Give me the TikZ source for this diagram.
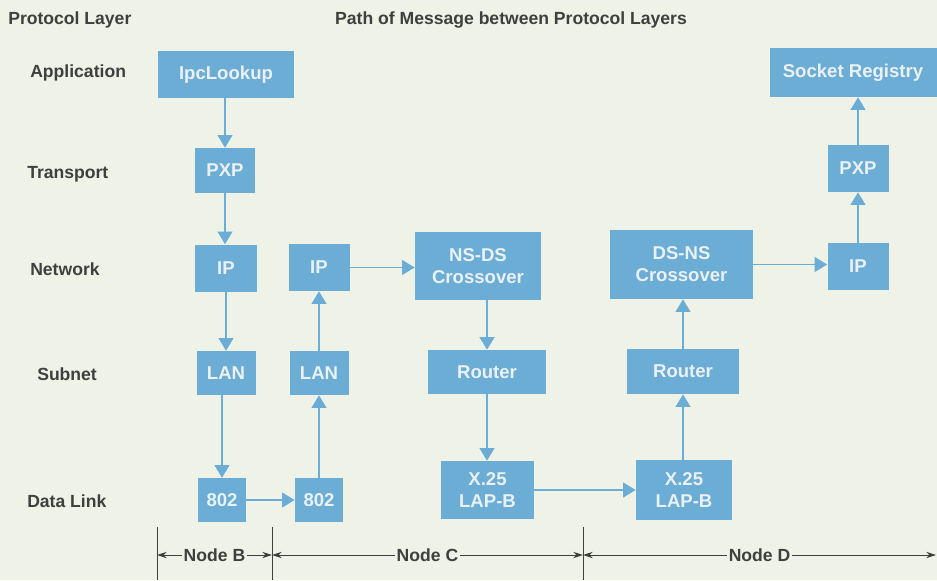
\documentclass[tikz,border=0pt]{standalone}
\usepackage{fontspec}
\setmainfont{Liberation Sans}
\usepackage{tikz}
\usetikzlibrary{arrows.meta,positioning}
\definecolor{paper}{RGB}{238,242,231}
\definecolor{boxblue}{RGB}{108,173,214}
\definecolor{boxtext}{RGB}{234,241,243}
\definecolor{labelgray}{RGB}{62,64,62}
\tikzstyle{proto} = [fill=boxblue, text=boxtext, align=center, inner sep=0pt, font=\fontsize{13.2}{15.5}\selectfont\bfseries]
\tikzstyle{layer} = [text=labelgray, anchor=west, inner sep=0pt, font=\fontsize{12.5}{14}\selectfont\bfseries]
\tikzstyle{arrow} = [draw, line width=1.4pt, color=boxblue, -{Triangle[length=9pt,width=10.5pt]}]
\tikzstyle{span} = [draw, line width=0.7pt, color=labelgray, {Stealth[length=7pt,width=4.5pt]}-{Stealth[length=7pt,width=4.5pt]}]
\tikzstyle{spanlabel} = [fill=paper, text=labelgray, inner sep=1pt, font=\fontsize{12.5}{14}\selectfont\bfseries]
\tikzstyle{tick} = [draw, line width=0.7pt, color=labelgray]
\newcommand{\proto}[4]{node (#1) [proto, minimum width=#2*0.025cm, minimum height=#3*0.025cm] {#4}}
\newcommand{\layer}[2]{node (l#1) [layer] {#2}}

\begin{document}
\begin{tikzpicture}[x=0.025cm,y=-0.025cm]
\path [fill=paper] (0,0) rectangle (937,580);
\useasboundingbox (0,0) rectangle (937,580);

% layer names and title
\path (8,20) \layer{head}{Protocol Layer};
\path (511,20) node (title) [layer, anchor=center] {Path of Message between Protocol Layers};
\path (30,73) \layer{app}{Application};
\path (27,174) \layer{trans}{Transport};
\path (30,269) \layer{net}{Network};
\path (37,374) \layer{sub}{Subnet};
\path (27,501) \layer{link}{Data Link};

% node B
\path (226,74.5) \proto{ipc}{136}{47}{IpcLookup};
\path (225,170.5) \proto{pxpB}{60}{45}{PXP};
\path (226,268) \proto{ipB}{62}{47}{IP};
\path (226,373) \proto{lanB}{59}{44}{LAN};
\path (222,500) \proto{linkB}{48}{44}{802};
\path [arrow] (ipc.south -| pxpB.north) -- (pxpB.north);
\path [arrow] (pxpB.south) -- (pxpB.south |- ipB.north);
\path [arrow] (ipB.south) -- (ipB.south |- lanB.north);
\path [arrow] (lanB.south -| linkB.north) -- (linkB.north);

% node C
\path (319,500) \proto{linkC}{48}{44}{802};
\path (319,373) \proto{lanC}{59}{44}{LAN};
\path (319,267.5) \proto{ipC}{61}{47}{IP};
\path (478,266) \proto{nsds}{126}{68}{NS-DS\\Crossover};
\path (487,372) \proto{routerC}{118}{44}{Router};
\path (487.5,490) \proto{x25C}{93}{58}{X.25\\LAP-B};
\path [arrow] (linkB.east) -- (linkB.east -| linkC.west);
\path [arrow] (linkC.north) -- (linkC.north |- lanC.south);
\path [arrow] (lanC.north) -- (lanC.north |- ipC.south);
\path [arrow] (ipC.east) -- (ipC.east -| nsds.west);
\path [arrow] (nsds.south -| routerC.north) -- (routerC.north);
\path [arrow] (routerC.south) -- (routerC.south |- x25C.north);

% node D
\path (684,490) \proto{x25D}{96}{60}{X.25\\LAP-B};
\path (683,371.5) \proto{routerD}{112}{45}{Router};
\path (681.5,264.5) \proto{dsns}{143}{69}{DS-NS\\Crossover};
\path (858,266.5) \proto{ipD}{61}{47}{IP};
\path (858,168.5) \proto{pxpD}{61}{47}{PXP};
\path (853,72.5) \proto{socket}{167}{49}{Socket Registry};
\path [arrow] (x25C.east) -- (x25C.east -| x25D.west);
\path [arrow] (x25D.north -| routerD.south) -- (routerD.south);
\path [arrow] (routerD.north) -- (routerD.north |- dsns.south);
\path [arrow] (dsns.east) -- (dsns.east -| ipD.west);
\path [arrow] (ipD.north) -- (ipD.north |- pxpD.south);
\path [arrow] (pxpD.north) -- (pxpD.north |- socket.south);

% extent of each node
\coordinate (sB) at (157,555);
\coordinate (sC) at (272,555);
\coordinate (sD) at (583,555);
\coordinate (sE) at (936,555);
\path [tick] (sB) +(0,-28) -- +(0,25);
\path [tick] (sC) +(0,-28) -- +(0,25);
\path [tick] (sD) +(0,-28) -- +(0,25);
\path [span] (sB) -- node[spanlabel] {Node B} (sC);
\path [span] (sC) -- node[spanlabel] {Node C} (sD);
\path [span] (sD) -- node[spanlabel] {Node D} (sE);
\end{tikzpicture}
\end{document}
